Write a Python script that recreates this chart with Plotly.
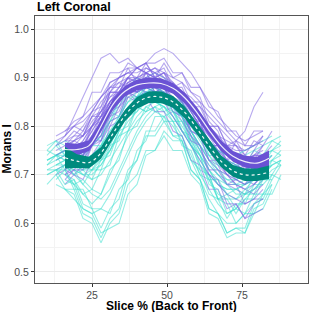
import plotly.graph_objects as go

N = None
# slice positions (% back to front) for individual subject curves
SLICES = [10, 13, 16, 19, 22, 25, 28, 31, 34, 37, 40, 43, 46, 49, 52, 55, 58, 61, 64, 67, 70, 73, 76, 79, 82, 85, 88]

# group 1 (purple) individual curves
PURPLE = [
    [N, N, .78, .80, .79, .83, .84, .89, .90, .93, .92, .93, .93, .94, .91, .91, .88, .88, .84, .83, .79, .79, .76, .79, .79, N, N],
    [N, .76, .78, .82, .86, .90, .94, .95, .93, .94, .92, .91, .90, .89, .88, .86, .84, .82, .80, .78, .77, .76, .75, .76, N, N, N],
    [N, N, .74, .75, .77, .80, .83, .86, .88, .90, .92, .93, .95, .96, .95, .93, .91, .88, .85, .82, .80, .78, .77, .78, .79, N, N],
    [N, N, .72, .74, .73, .77, .78, .83, .84, .88, .87, .90, .87, .88, .85, .85, .81, .81, .76, .76, .73, .77, .79, .84, .87, N, N],
    [N, .70, .71, .70, .72, .74, .77, .80, .84, .86, .87, .88, .87, .86, .84, .81, .78, .75, .72, .70, .68, .67, .66, .67, .69, N, N],
    [N, N, .77, .79, .78, .82, .83, .88, .88, .92, .89, .92, .91, .92, .88, .88, .84, .84, .80, .80, .76, .77, .74, .77, .76, N, N],
    [N, .73, .74, .73, .75, .77, .81, .85, .87, .88, .89, .90, .90, .88, .87, .85, .82, .79, .76, .73, .71, .70, .69, .70, .72, .74, N],
    [N, N, .79, .80, .81, .83, .86, .88, .90, .91, .92, .91, .90, .89, .88, .86, .84, .81, .78, .76, .75, .74, .73, .74, .75, N, N],
    [N, N, .68, .70, .69, .73, .74, .80, .81, .86, .85, .88, .87, .88, .84, .84, .79, .78, .73, .72, .68, .68, .64, .65, .65, N, N],
    [N, .75, .76, .77, .78, .81, .83, .86, .87, .89, .90, .89, .88, .87, .85, .84, .81, .78, .76, .74, .73, .72, .71, .72, .73, N, N],
    [N, N, .74, .74, .76, .79, .82, .84, .86, .88, .89, .90, .91, .89, .87, .86, .83, .80, .77, .74, .72, .70, .69, .68, .70, N, N],
    [N, N, .76, .77, .76, .80, .81, .87, .87, .90, .90, .93, .90, .91, .88, .89, .85, .85, .80, .80, .76, .76, .73, .74, .74, N, N],
    [N, .71, .72, .73, .74, .76, .79, .82, .85, .87, .88, .88, .89, .88, .86, .84, .82, .79, .76, .73, .70, .68, .67, .68, .70, N, N],
    [N, N, .75, .77, .79, .82, .85, .87, .89, .90, .89, .90, .89, .88, .88, .87, .86, .84, .82, .80, .78, .76, .74, .73, .74, .76, N],
    [N, N, .73, .75, .74, .77, .77, .81, .82, .87, .87, .91, .90, .93, .90, .91, .87, .86, .81, .79, .74, .73, .69, .72, .72, N, N],
    [N, .77, .78, .80, .82, .84, .86, .88, .89, .88, .87, .88, .87, .86, .84, .82, .79, .76, .73, .71, .70, .69, .70, .71, .72, N, N],
    [N, N, .70, .72, .74, .77, .81, .84, .86, .87, .86, .87, .86, .85, .84, .82, .80, .78, .75, .72, .70, .68, .67, .66, .68, N, N],
    [N, N, .76, .75, .77, .80, .84, .87, .90, .91, .91, .92, .91, .90, .89, .87, .84, .81, .78, .75, .73, .72, .71, .72, .74, N, N],
    [N, N, .71, .73, .72, .76, .77, .82, .83, .87, .85, .86, .83, .83, .79, .78, .73, .72, .67, .67, .63, .64, .61, .64, .65, N, N],
    [N, N, .74, .75, .76, .78, .82, .85, .88, .89, .90, .89, .90, .89, .88, .86, .83, .80, .77, .74, .72, .71, .72, .75, .78, N, N],
    [N, N, .73, .72, .74, .77, .80, .83, .86, .88, .87, .89, .88, .86, .85, .83, .81, .79, .77, .75, .73, .71, .70, .70, .71, N, N],
    [N, .78, .79, .81, .82, .87, .87, .91, .91, .92, .92, .93, .90, .91, .87, .86, .82, .81, .76, .76, .73, .74, .71, .74, .74, N, N],
    [N, N, .70, .71, .73, .76, .80, .83, .85, .87, .89, .88, .87, .85, .82, .79, .76, .73, .70, .68, .66, .65, .64, .65, .67, N, N],
    [N, N, .75, .76, .78, .80, .83, .85, .87, .88, .90, .91, .90, .91, .90, .89, .87, .85, .83, .81, .79, .77, .76, .76, .78, N, N],
    [N, .74, .75, .76, .75, .80, .82, .87, .87, .90, .87, .90, .87, .87, .83, .82, .77, .76, .71, .71, .68, .69, .68, .71, .71, N, N],
    [N, N, .77, .77, .78, .80, .82, .85, .87, .90, .92, .91, .92, .90, .88, .86, .83, .80, .78, .76, .74, .73, .73, .74, .76, N, N],
    [N, N, .72, .74, .76, .79, .82, .84, .86, .87, .88, .89, .88, .87, .86, .85, .84, .82, .80, .78, .76, .74, .73, .72, .73, N, N],
    [N, N, .69, .71, .71, .76, .78, .84, .85, .89, .88, .91, .88, .89, .85, .84, .78, .76, .70, .69, .64, .64, .61, .62, .63, N, N],
    [N, .76, .77, .78, .80, .83, .86, .89, .90, .91, .90, .91, .92, .91, .89, .87, .85, .82, .79, .77, .76, .75, .75, .76, .77, N, N],
    [N, N, .74, .73, .75, .78, .81, .85, .87, .88, .87, .88, .89, .88, .87, .85, .82, .79, .76, .73, .71, .70, .71, .73, .76, .79, N],
    [N, N, .76, .78, .78, .82, .82, .87, .87, .90, .89, .91, .88, .88, .84, .84, .79, .78, .73, .73, .70, .71, .69, .72, .72, N, N],
    [N, N, .71, .73, .75, .78, .81, .84, .86, .87, .88, .87, .87, .86, .86, .84, .82, .80, .77, .74, .71, .69, .68, .69, .71, N, N],
]

# group 2 (turquoise) individual curves
CYAN = [
    [.74, .76, .74, .76, .74, .78, .77, .83, .82, .87, .86, .90, .87, .88, .85, .85, .80, .79, .74, .74, .71, .72, .70, .73, .72, .75, .74],
    [.70, .71, .70, .68, .66, .64, .66, .70, .74, .78, .81, .83, .84, .83, .81, .78, .74, .70, .67, .64, .62, .63, .65, .67, .68, .70, N],
    [N, .76, .77, .76, .75, .76, .78, .81, .84, .87, .89, .90, .91, .90, .88, .86, .83, .80, .77, .75, .74, .73, .74, .75, .76, .77, .78],
    [.68, .70, .67, .67, .62, .61, .57, .61, .63, .70, .73, .79, .79, .82, .78, .77, .71, .69, .63, .62, .58, .59, .59, .64, .65, .69, N],
    [N, .73, .74, .73, .72, .73, .76, .79, .82, .85, .86, .87, .86, .85, .84, .82, .79, .76, .73, .71, .70, .69, .68, .69, .70, .72, N],
    [.75, .77, .74, .75, .73, .76, .76, .81, .82, .86, .86, .87, .86, .87, .84, .84, .80, .79, .75, .75, .71, .73, .72, .75, .74, .77, .76],
    [N, .71, .72, .70, .68, .66, .65, .67, .71, .75, .79, .82, .84, .85, .84, .82, .79, .75, .71, .68, .66, .65, .66, .68, .70, N, N],
    [.72, .73, .74, .73, .73, .74, .76, .79, .81, .83, .85, .86, .85, .84, .83, .80, .77, .74, .71, .69, .68, .68, .69, .70, .71, .72, .73],
    [N, N, .70, .69, .64, .63, .59, .63, .65, .71, .73, .78, .78, .81, .78, .78, .73, .71, .66, .65, .61, .64, .64, .68, .68, N, N],
    [.73, .74, .73, .73, .74, .76, .79, .82, .85, .87, .88, .87, .88, .87, .86, .84, .81, .78, .75, .73, .71, .70, .70, .71, .72, .74, N],
    [N, .69, .71, .68, .69, .67, .71, .72, .78, .79, .84, .83, .86, .83, .84, .79, .77, .71, .70, .65, .65, .62, .65, .65, .69, .69, .72],
    [.71, .72, .73, .72, .71, .71, .73, .76, .80, .83, .85, .87, .88, .87, .85, .82, .78, .74, .71, .68, .67, .67, .68, .70, .72, N, N],
    [N, .74, .75, .74, .73, .72, .73, .75, .78, .81, .83, .85, .86, .86, .85, .84, .82, .79, .76, .74, .72, .71, .70, .71, .72, .73, .75],
    [N, N, .67, .66, .61, .60, .56, .60, .62, .68, .70, .75, .75, .78, .75, .75, .70, .68, .62, .61, .57, .58, .58, .63, .64, .68, N],
    [.76, .77, .76, .75, .75, .76, .78, .81, .85, .88, .90, .89, .90, .89, .87, .85, .82, .79, .77, .75, .74, .74, .75, .76, .77, .78, N],
    [N, .70, .72, .70, .71, .69, .73, .74, .79, .80, .84, .83, .84, .81, .81, .76, .75, .70, .69, .65, .66, .63, .66, .66, .70, .70, .73],
    [N, .72, .72, .71, .70, .71, .74, .77, .80, .83, .85, .86, .85, .84, .82, .79, .76, .73, .70, .68, .67, .67, .68, .69, .71, N, N],
    [.73, .74, .74, .72, .70, .69, .70, .73, .76, .79, .82, .84, .85, .84, .82, .79, .76, .72, .69, .66, .65, .65, .67, .69, .71, .73, .74],
    [.72, .74, .71, .71, .68, .71, .71, .76, .77, .82, .83, .87, .86, .87, .83, .82, .76, .74, .69, .69, .66, .67, .66, .70, .69, .73, .72],
    [N, .68, .67, .65, .63, .62, .63, .66, .70, .74, .78, .81, .83, .82, .80, .77, .73, .69, .65, .62, .60, .60, .62, .64, .66, .68, N],
    [.75, .74, .75, .74, .73, .74, .76, .78, .81, .84, .86, .88, .89, .88, .87, .85, .82, .79, .76, .74, .73, .72, .72, .73, .74, .75, .76],
    [N, .71, .71, .67, .67, .63, .63, .62, .67, .69, .75, .77, .82, .82, .83, .79, .78, .72, .70, .65, .64, .60, .62, .62, .66, .66, .70],
    [.73, .74, .75, .74, .72, .71, .72, .75, .79, .83, .86, .87, .86, .85, .83, .81, .78, .75, .72, .70, .69, .69, .70, .71, .73, .74, N],
    [N, .72, .73, .72, .72, .73, .75, .78, .82, .85, .87, .88, .88, .87, .85, .83, .80, .77, .74, .71, .69, .68, .68, .69, .70, .72, .73],
    [N, N, .69, .68, .63, .62, .58, .59, .60, .66, .68, .74, .75, .79, .77, .77, .71, .69, .63, .62, .58, .59, .58, .62, .63, .67, N],
    [.70, .71, .72, .71, .70, .70, .72, .75, .79, .83, .86, .88, .87, .86, .84, .82, .79, .76, .73, .70, .68, .66, .66, .67, .69, .71, .72],
    [N, .74, .73, .72, .71, .72, .74, .77, .80, .82, .84, .85, .86, .85, .84, .82, .79, .76, .74, .72, .71, .70, .71, .72, .74, .75, .77],
    [.71, .71, .68, .69, .66, .67, .66, .71, .73, .79, .80, .84, .83, .84, .81, .81, .76, .74, .68, .67, .62, .63, .62, .66, .66, .70, .69],
]

# smoothed group means with confidence ribbons
MEAN_X = [16, 20, 24, 28, 32, 36, 40, 44, 48, 52, 56, 60, 64, 68, 72, 76, 80, 84]
PURPLE_MEAN = [.752, .752, .760, .800, .845, .872, .885, .889, .888, .878, .858, .828, .792, .760, .738, .727, .724, .734]
PURPLE_HALF = [.014, .012, .011, .011, .011, .011, .011, .011, .011, .011, .011, .011, .011, .011, .011, .012, .013, .016]
TEAL_MEAN = [.735, .728, .725, .745, .785, .822, .848, .860, .860, .850, .828, .795, .760, .728, .708, .700, .700, .705]
TEAL_HALF = [.022, .014, .012, .012, .012, .012, .012, .012, .012, .012, .012, .012, .012, .012, .012, .013, .013, .014]

X_TICKS = [25, 50, 75]
Y_TICKS = [0.5, 0.6, 0.7, 0.8, 0.9, 1.0]
Y_TICK_TEXT = ["0.5", "0.6", "0.7", "0.8", "0.9", "1.0"]

FONT = "Liberation Sans, Arial, Helvetica, sans-serif"

fig = go.Figure()

# interleave subject curves
n = max(len(PURPLE), len(CYAN))
for i in range(n):
    if i < len(CYAN):
        fig.add_trace(go.Scatter(x=SLICES, y=CYAN[i], mode="lines",
                                 line=dict(color="rgba(64,224,208,0.55)", width=1.1),
                                 hoverinfo="skip", showlegend=False))
    if i < len(PURPLE):
        fig.add_trace(go.Scatter(x=SLICES, y=PURPLE[i], mode="lines",
                                 line=dict(color="rgba(125,100,225,0.55)", width=1.1),
                                 hoverinfo="skip", showlegend=False))


def ribbon(mean, half, color):
    up = [m + h for m, h in zip(mean, half)]
    lo = [m - h for m, h in zip(mean, half)]
    fig.add_trace(go.Scatter(x=MEAN_X + MEAN_X[::-1], y=up + lo[::-1], mode="lines",
                             fill="toself", fillcolor=color, line=dict(width=0, color=color),
                             hoverinfo="skip", showlegend=False))


ribbon(PURPLE_MEAN, PURPLE_HALF, "#6a52d4")
ribbon(TEAL_MEAN, TEAL_HALF, "#008a7e")

fig.add_trace(go.Scatter(x=MEAN_X, y=PURPLE_MEAN, mode="lines",
                         line=dict(color="rgba(255,255,255,0.9)", width=1.2, shape="spline"),
                         hoverinfo="skip", showlegend=False))
fig.add_trace(go.Scatter(x=MEAN_X, y=TEAL_MEAN, mode="lines",
                         line=dict(color="rgba(255,255,255,0.95)", width=1.2, dash="3px,3px", shape="spline"),
                         hoverinfo="skip", showlegend=False))

axis_common = dict(showline=True, linecolor="#555555", linewidth=1, mirror=True,
                   ticks="outside", ticklen=3, tickcolor="#333333", tickwidth=1,
                   showgrid=True, gridcolor="#ebebeb", gridwidth=1, zeroline=False,
                   tickfont=dict(family=FONT, size=10.5, color="#4d4d4d"))

fig.update_xaxes(range=[6, 97], tickvals=X_TICKS, ticklabelstandoff=-1,
                 minor=dict(tickvals=[12.5, 37.5, 62.5, 87.5], showgrid=True,
                            gridcolor="#f3f3f3", gridwidth=0.6, ticks=""),
                 **axis_common)
fig.update_yaxes(range=[0.477, 1.027], tickvals=Y_TICKS, ticktext=Y_TICK_TEXT,
                 minor=dict(tickvals=[0.55, 0.65, 0.75, 0.85, 0.95], showgrid=True,
                            gridcolor="#f3f3f3", gridwidth=0.6, ticks=""),
                 **axis_common)

fig.update_layout(
    width=312, height=312,
    margin=dict(l=35, r=4, t=16, b=29),
    paper_bgcolor="white", plot_bgcolor="white",
    showlegend=False,
    annotations=[
        dict(text="<b>Left Coronal</b>", xref="paper", yref="paper", x=0, y=1,
             xanchor="left", yanchor="bottom", yshift=0, showarrow=False,
             font=dict(family=FONT, size=12.5, color="black")),
        dict(text="<b>Slice % (Back to Front)</b>", xref="paper", yref="paper", x=0.5, y=0,
             xanchor="center", yanchor="top", yshift=-14, showarrow=False,
             font=dict(family=FONT, size=12, color="black")),
        dict(text="<b>Morans I</b>", xref="paper", yref="paper", x=0, y=0.5,
             xanchor="right", yanchor="middle", xshift=-20, textangle=-90, showarrow=False,
             font=dict(family=FONT, size=12, color="black")),
    ],
)

fig.write_html("out.html", config={"displayModeBar": False},
               post_script="document.body.style.margin='0px';")
